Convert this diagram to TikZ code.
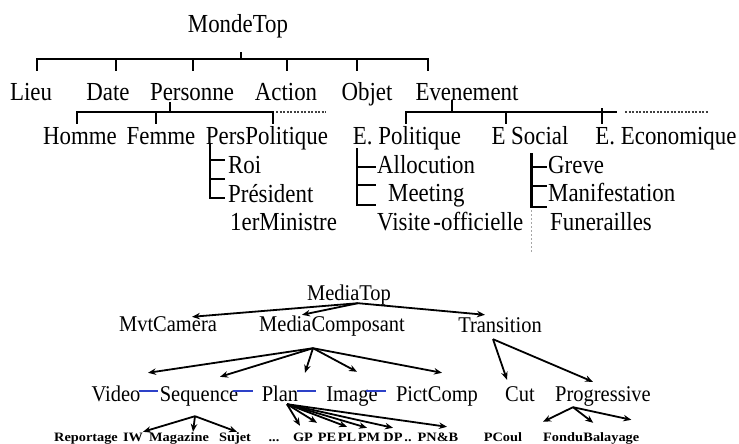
\documentclass[tikz,border=0pt]{standalone}
\usepackage{fontspec}
\setmainfont{Liberation Serif}
\newfontfamily\tallserif[FakeStretch=0.88]{Liberation Serif}
\newfontfamily\midserif[FakeStretch=0.91]{Liberation Serif}
\newfontfamily\widebold[FakeStretch=1.12]{Liberation Serif}
\usepackage{xcolor}
\usepackage{tikz}
\usetikzlibrary{positioning, calc, arrows.meta}
\definecolor{linkblue}{RGB}{45,65,200}

\begin{document}
\begin{tikzpicture}[x=1pt, y=-1pt,
    upper/.style={font=\tallserif\fontsize{26}{28}\selectfont, inner sep=0pt, text height=16pt, text depth=5pt, anchor=base},
    lower/.style={font=\midserif\fontsize{22.5}{25}\selectfont, inner sep=0pt, text height=15pt, text depth=5pt, anchor=base},
    leaf/.style={font=\widebold\bfseries\fontsize{12.8}{15}\selectfont, inner sep=0pt, text height=10pt, text depth=3pt, anchor=base},
    bar/.style={line width=2.4pt},
    arr/.style={-{Stealth[length=8pt,width=6.5pt]}, line width=1.8pt},
    link/.style={draw=linkblue, line width=2pt},
    dots/.style={dash pattern=on 2pt off 1.5pt, line width=1.6pt, black!75}]
        \useasboundingbox (0,0) rectangle (739,444);

        % Upper tree: MondeTop
        \node[upper] (monde) at (238,33) {MondeTop};
        \coordinate (m0) at (241,59);
        \draw[bar] ([xshift=3pt,yshift=-14pt]monde.south) -- (m0);

        % First level
        \node[upper] (lieu) at (31,100) {Lieu};
        \node[upper] (date) at (108,100) {Date};
        \node[upper] (pers) at (192,100) {Personne};
        \node[upper] (act) at (286,100) {Action};
        \node[upper] (obj) at (367,100) {Objet};
        \node[upper] (even) at (467,100) {Evenement};
        \foreach \n/\dx in {lieu/6, date/8, pers/1, act/1, obj/-10, even/-39}
            \draw[bar] ([xshift=\dx pt,yshift=13pt]\n.north) |- (m0);

        % Second level under Personne
        \node[upper] (homme) at (80,144) {Homme};
        \node[upper] (femme) at (161,144) {Femme};
        \node[upper] (perspol) at (267,144) {PersPolitique};
        \coordinate (p0) at (170,112);
        \draw[bar] ([xshift=-22pt,yshift=3pt]pers.south) -- (p0);
        \foreach \n/\dx in {homme/-3, femme/-5, perspol/6}
            \draw[bar] ([xshift=\dx pt,yshift=4pt]\n.north) |- (p0);
        \coordinate (p1) at ([xshift=6pt,yshift=16pt]perspol.north);
        \draw[dots] (p1) ++(3,0) -- ++(50,0);

        % Second level under Evenement
        \node[upper] (epol) at (407,144) {E. Politique};
        \node[upper] (esoc) at (530,144) {E Social};
        \node[upper] (eeco) at (666,144) {E. Economique};
        \coordinate (e0) at (452,112);
        \draw[bar] ([xshift=-15pt,yshift=5pt]even.south) -- (e0);
        \foreach \n/\dx in {epol/-1, esoc/-24}
            \draw[bar] ([xshift=\dx pt,yshift=4pt]\n.north) |- (e0);
        \draw[bar] ([xshift=-64pt,yshift=4pt]eeco.north) -- ++(0,-16);
        \draw[bar] (e0) -- ++(165,0) coordinate (e1);
        \draw[dots] (e1) ++(8,0) -- ++(83,0);

        % Bracket under PersPolitique
        \node[upper, anchor=base west] (roi) at (228,173) {Roi};
        \node[upper, anchor=base west] (pres) at (228,202) {Président};
        \node[upper, anchor=base west] (prem) at (230,230) {1erMinistre};
        \coordinate (pp) at ([xshift=4pt,yshift=6pt]perspol.south west);
        \foreach \n/\dx/\dy in {roi/-3/-3, pres/-3/7, prem/-5/16}
            \draw[bar] (pp) |- ([xshift=\dx pt,yshift=\dy pt]\n.north west);

        % Bracket under E. Politique
        \node[upper, anchor=base west] (alloc) at (377,173) {Allocution};
        \node[upper, anchor=base west] (meet) at (388,201) {Meeting};
        \node[upper, anchor=base west] (visite) at (377,230) {Visite\kern3pt-officielle};
        \coordinate (ep) at ([xshift=4pt,yshift=1pt]epol.south west);
        \foreach \n/\dx/\dy in {alloc/-1/-10, meet/-12/0, visite/-1/9}
            \draw[bar] (ep) |- ([xshift=\dx pt,yshift=\dy pt]\n.north west);

        % Bracket under E Social
        \node[upper, anchor=base west] (greve) at (548,173) {Greve};
        \node[upper, anchor=base west] (manif) at (548,201) {Manifestation};
        \node[upper, anchor=base west] (fun) at (550,230) {Funerailles};
        \coordinate (es) at ([xshift=40pt,yshift=-4pt]esoc.south west);
        \foreach \n/\dx/\dy in {greve/-1/-10, manif/-1/-1, fun/-3/7}
            \draw[bar] (es) |- ([xshift=\dx pt,yshift=\dy pt]\n.north west);
        \draw[black!35, dash pattern=on 2pt off 2pt, line width=0.8pt] (es) ++(0,57) -- ++(0,43);

        % Lower tree: MediaTop
        \node[lower] (mt) at (349,300) {MediaTop};
        \node[lower] (mvt) at (168,331) {MvtCamera};
        \node[lower] (mc) at (332,331) {MediaComposant};
        \node[lower] (tr) at (500,332) {Transition};
        \coordinate (mtA) at ([xshift=9pt,yshift=2pt]mt.south);
        \draw[arr] (mtA) -- ([xshift=24pt,yshift=-1pt]mvt.north);
        \draw[arr] (mtA) -- ([xshift=-30pt,yshift=1pt]mc.north);
        \draw[arr] (mtA) -- ([xshift=-15pt,yshift=2pt]tr.north);

        % Media components
        \node[lower] (video) at (116,401) {Video};
        \node[lower] (seq) at (199,401) {Sequence};
        \node[lower] (plan) at (280,401) {Plan};
        \node[lower] (image) at (352,401) {Image};
        \node[lower] (pict) at (437,401) {PictComp};
        \coordinate (mcA) at ([xshift=-19pt,yshift=-12pt]mc.south);
        \foreach \n/\dx/\dy in {video/32/13, seq/21/9, plan/25/13, image/5/14, pict/5/13}
            \draw[arr] (mcA) -- ([xshift=\dx pt,yshift=\dy pt]\n.north);

        % Blue links between components
        \foreach \a/\b/\da/\db in {video/seq/-2/-2, seq/plan/-5/-9, plan/image/-1/-10, image/pict/-12/-10}
            \draw[link] ([xshift=\da pt,yshift=5pt]\a.east) -- ([xshift=\db pt,yshift=5pt]\b.west);

        % Transitions
        \node[lower] (cut) at (520,401) {Cut};
        \node[lower] (prog) at (603,401) {Progressive};
        \coordinate (trA) at ([xshift=-7pt,yshift=-2pt]tr.south);
        \draw[arr] (trA) -- ([xshift=-13pt,yshift=6pt]cut.north);
        \draw[arr] (trA) -- ([xshift=-10pt,yshift=4pt]prog.north);

        % Leaves
        \node[leaf] (rep) at (86,441) {Reportage};
        \node[leaf] (iw) at (133,441) {IW};
        \node[leaf] (mag) at (179,441) {Magazine};
        \node[leaf] (sujet) at (235,441) {Sujet};
        \node[leaf] (etc) at (274,441) {...};
        \node[leaf] (gp) at (303,441) {GP};
        \node[leaf] (pe) at (327,441) {PE};
        \node[leaf] (pl) at (347,441) {PL};
        \node[leaf] (pm) at (369,441) {PM};
        \node[leaf] (dp) at (393,441) {DP};
        \node[leaf] (etc2) at (408,441) {..};
        \node[leaf] (pnb) at (438,441) {PN\&B};
        \node[leaf] (pcoul) at (503,441) {PCoul};
        \node[leaf, anchor=base west] (fondu) at (543,441) {Fondu};
        \node[leaf, anchor=base west] (bal) at (fondu.base east) {Balayage};

        % Arrows to leaves
        \coordinate (seqA) at ([xshift=-4pt,yshift=-10pt]seq.south);
        \foreach \n/\dx in {iw/10, mag/14, sujet/2}
            \draw[arr] (seqA) -- ([xshift=\dx pt,yshift=-1pt]\n.north);
        \coordinate (planA) at ([xshift=7pt,yshift=2pt]plan.south);
        \foreach \n/\dx/\dy in {gp/-3/5, pe/-10/8, pl/0/4, pm/-2/3, dp/0/3, pnb/9/4}
            \draw[arr] (planA) -- ([xshift=\dx pt,yshift=\dy pt]\n.north);
        \coordinate (progA) at ([xshift=-30pt,yshift=-1pt]prog.south);
        \draw[arr] (progA) -- ([yshift=9pt]fondu.north west);
        \draw[arr] (progA) -- ([xshift=10pt,yshift=8pt]bal.north west);
        \draw[arr] (progA) -- ([xshift=20pt,yshift=11pt]bal.north);
    \end{tikzpicture}
\end{document}
